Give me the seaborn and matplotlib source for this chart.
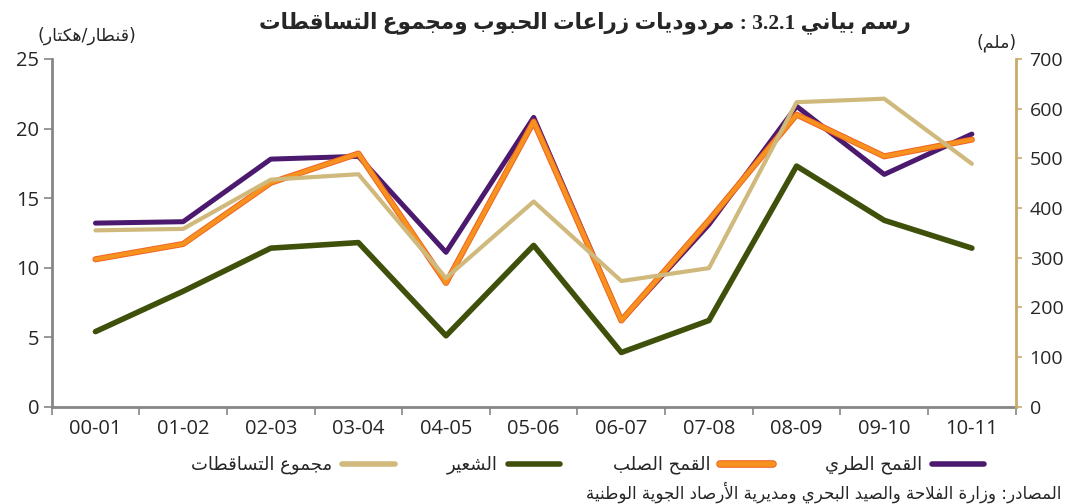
import re
import unicodedata
import numpy as np
import pandas as pd
import matplotlib
matplotlib.use("Agg")
import matplotlib.pyplot as plt
import matplotlib.patheffects as pe
from matplotlib.lines import Line2D
import seaborn as sns

# ---------------- data ----------------
seasons = ["00-01", "01-02", "02-03", "03-04", "04-05", "05-06",
           "06-07", "07-08", "08-09", "09-10", "10-11"]
soft_wheat = [13.2, 13.3, 17.8, 18.0, 11.1, 20.8, 6.2, 13.1, 21.6, 16.7, 19.6]
durum_wheat = [10.6, 11.7, 16.1, 18.2, 8.9, 20.5, 6.2, 13.4, 21.0, 18.0, 19.2]
barley = [5.4, 8.3, 11.4, 11.8, 5.1, 11.6, 3.9, 6.2, 17.3, 13.4, 11.4]
rainfall = [355, 358, 457, 468, 259, 413, 253, 279, 613, 620, 489]

label_soft = "القمح الطري"
label_durum = "القمح الصلب"
label_barley = "الشعير"
label_rain = "مجموع التساقطات"
title_text = "رسم بياني 3.2.1 : مردوديات زراعات الحبوب ومجموع التساقطات"
left_unit = "(قنطار/هكتار)"
right_unit = "(ملم)"
source_text = "المصادر: وزارة الفلاحة والصيد البحري ومديرية الأرصاد الجوية الوطنية"

# ---------------- simple Arabic shaping (matplotlib has no complex text layout) -------------
def _build_forms():
    forms, ligs = {}, {}
    for cp in range(0xFE70, 0xFEFF):
        ch = chr(cp)
        d = unicodedata.decomposition(ch)
        if not d.startswith("<"):
            continue
        parts = d.split()
        tag = parts[0].strip("<>")
        if tag not in ("isolated", "final", "initial", "medial"):
            continue
        base = "".join(chr(int(x, 16)) for x in parts[1:])
        if len(base) == 1:
            forms.setdefault(base, {}).setdefault(tag, ch)
        elif len(base) == 2 and base[0] == "\u0644":
            ligs.setdefault(base, {}).setdefault(tag, ch)
    return forms, ligs

FORMS, LIGS = _build_forms()


def shape(text):
    toks, i = [], 0
    while i < len(text):
        if text[i] == "\u0644" and i + 1 < len(text) and (text[i] + text[i + 1]) in LIGS:
            toks.append(text[i:i + 2]); i += 2
        else:
            toks.append(text[i]); i += 1

    def joins_next(t):
        if len(t) == 2:
            return False
        return t in FORMS and "initial" in FORMS[t]

    def joins_prev(t):
        if len(t) == 2:
            return True
        return t in FORMS and "final" in FORMS[t]

    out = []
    for k, t in enumerate(toks):
        if len(t) == 1 and t not in FORMS:
            out.append(t)
            continue
        p = k > 0 and joins_next(toks[k - 1]) and joins_prev(t)
        n = k + 1 < len(toks) and joins_next(t) and joins_prev(toks[k + 1])
        table = LIGS[t] if len(t) == 2 else FORMS[t]
        form = "medial" if (p and n) else "final" if p else "initial" if n else "isolated"
        out.append(table.get(form, table.get("isolated", t)))
    s = "".join(out)[::-1]
    s = re.sub(r"[0-9A-Za-z][0-9A-Za-z.\-]*[0-9A-Za-z]", lambda m: m.group(0)[::-1], s)
    s = s.translate(str.maketrans("()", ")("))
    return s

# ---------------- style ----------------
sns.set_style("white")
plt.rcParams["font.family"] = ["Open Sans", "DejaVu Sans"]

C_SOFT = "#4b1a6f"
C_DURUM = "#f7921e"
C_DURUM_EDGE = "#ee6424"
C_BARLEY = "#3e500a"
C_RAIN = "#d0b97c"
C_GRAY = "#868686"
C_RAINAX = "#c9ab6b"

fig = plt.figure(figsize=(10.65, 5.04), dpi=100)
ax = fig.add_axes([0.0485, 0.193, 0.9052, 0.690])
ax2 = ax.twinx()

x = np.arange(len(seasons))
df = pd.DataFrame({"x": x, "soft": soft_wheat, "durum": durum_wheat,
                   "barley": barley, "rain": rainfall})

sns.lineplot(data=df, x="x", y="soft", ax=ax, color=C_SOFT, linewidth=3.6)
sns.lineplot(data=df, x="x", y="durum", ax=ax, color=C_DURUM, linewidth=3.0,
             path_effects=[pe.Stroke(linewidth=4.4, foreground=C_DURUM_EDGE), pe.Normal()])
sns.lineplot(data=df, x="x", y="barley", ax=ax, color=C_BARLEY, linewidth=4.0)
sns.lineplot(data=df, x="x", y="rain", ax=ax2, color=C_RAIN, linewidth=3.0)

# axes ranges and ticks
ax.set_xlim(-0.5, len(seasons) - 0.5)
ax.set_ylim(0, 25)
ax2.set_ylim(0, 700)
ax.set_yticks(np.arange(0, 26, 5))
ax2.set_yticks(np.arange(0, 701, 100))
ax.set_xticks(np.arange(-0.5, len(seasons), 1.0))
ax.set_xticklabels([])
ax.set_xticks(x, minor=True)
ax.set_xticklabels(seasons, minor=True)
ax.set_xlabel("")
ax.set_ylabel("")
ax2.set_ylabel("")

for a in (ax, ax2):
    a.spines["top"].set_visible(False)
    a.grid(False)
ax.spines["right"].set_visible(False)
ax2.spines["left"].set_visible(False)
ax2.spines["bottom"].set_visible(False)
ax.spines["left"].set_color(C_GRAY)
ax.spines["bottom"].set_color(C_GRAY)
ax.spines["left"].set_linewidth(2)
ax.spines["bottom"].set_linewidth(2)
ax2.spines["right"].set_color(C_RAINAX)
ax2.spines["right"].set_linewidth(2)

ax.tick_params(axis="y", which="major", direction="out", length=6, width=1.2,
               color=C_GRAY, labelsize=14.5, pad=3, left=True)
ax.tick_params(axis="x", which="major", direction="out", length=6, width=1.2,
               color=C_GRAY, bottom=True)
ax.tick_params(axis="x", which="minor", length=0, labelsize=14.5, pad=9)
ax2.tick_params(axis="y", direction="out", length=4, width=1.2, color=C_RAINAX,
                labelsize=14, pad=6, right=True)

# texts
fig.text(0.549, 0.955, shape(title_text), ha="center", va="center",
         fontsize=15.5, fontweight="bold", family=["Liberation Serif", "DejaVu Sans"])
fig.text(0.035, 0.928, shape(left_unit), ha="left", va="center", fontsize=12.5,
         family="DejaVu Sans")
fig.text(0.955, 0.915, shape(right_unit), ha="right", va="center", fontsize=12.5,
         family="DejaVu Sans")
fig.text(0.997, 0.024, shape(source_text), ha="right", va="center", fontsize=12,
         family="DejaVu Sans")

# legend (right-to-left order)
handles = [
    Line2D([], [], color=C_RAIN, linewidth=4),
    Line2D([], [], color=C_BARLEY, linewidth=4),
    Line2D([], [], color=C_DURUM, linewidth=4,
           path_effects=[pe.Stroke(linewidth=5.5, foreground=C_DURUM_EDGE), pe.Normal()]),
    Line2D([], [], color=C_SOFT, linewidth=4),
]
labels = [shape(label_rain), shape(label_barley), shape(label_durum), shape(label_soft)]
fig.legend(handles, labels, loc="center", bbox_to_anchor=(0.552, 0.077), ncol=4,
           frameon=False, markerfirst=False, handlelength=2.9, handletextpad=0.55,
           columnspacing=2.9, prop={"family": "DejaVu Sans", "size": 13})

fig.savefig("out.png", dpi=100)
